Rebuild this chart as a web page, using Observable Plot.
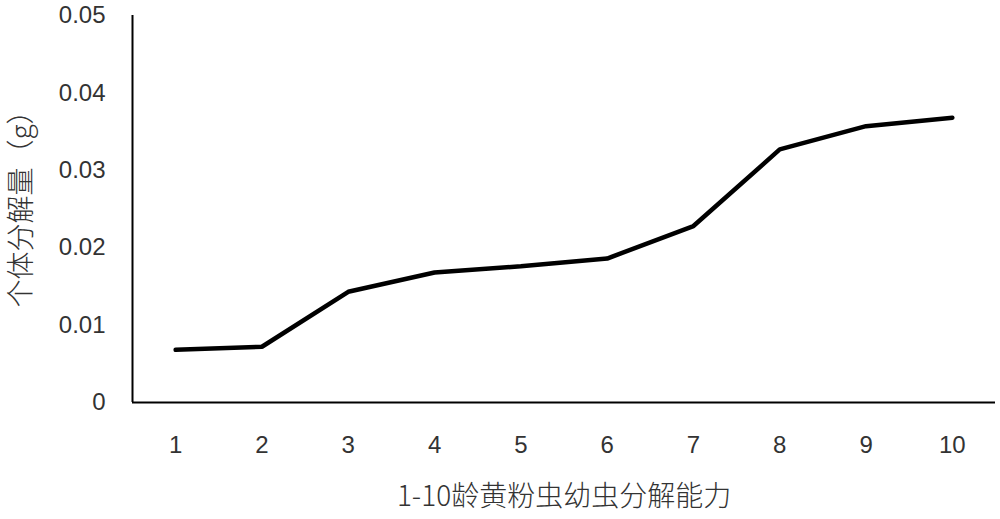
<!DOCTYPE html>
<html><head><meta charset="utf-8">
<script src="https://cdn.jsdelivr.net/npm/d3@7"></script>
<script src="https://cdn.jsdelivr.net/npm/@observablehq/plot@0.6"></script>
<style>
body{margin:0;background:#fff}
g[aria-label="x-axis tick label"], g[aria-label="y-axis tick label"]{font-size:24px}
</style>
</head><body><div id="chart"></div>
<script>
const instars = [1, 2, 3, 4, 5, 6, 7, 8, 9, 10];
const amounts = [0.0068, 0.0072, 0.0143, 0.0168, 0.0176, 0.0186, 0.0228, 0.0327, 0.0357, 0.0368];
const yTicks = [0, 0.01, 0.02, 0.03, 0.04, 0.05];
const yTickLabels = ["0", "0.01", "0.02", "0.03", "0.04", "0.05"];
const xTitle = "1-10龄黄粉虫幼虫分解能力";
const yTitle = "个体分解量（g）";

const data = instars.map((d, i) => ({instar: d, amount: amounts[i]}));
const numFont = "'Liberation Sans', Arial, sans-serif";
const cjkFont = "'Noto Sans CJK SC', sans-serif";

const chart = Plot.plot({
  width: 1000, height: 519,
  marginLeft: 132, marginRight: 5, marginTop: 15, marginBottom: 117,
  style: {background: "#fff"},
  x: {type: "linear", domain: [0.5, 10.5]},
  y: {domain: [0, 0.05]},
  marks: [
    Plot.axisX({ticks: instars, tickSize: 0, tickPadding: 33, label: null,
      fontSize: 24, fontFamily: numFont, fill: "#333"}),
    Plot.axisY({ticks: yTicks, tickFormat: (d) => yTickLabels[yTicks.indexOf(d)], tickSize: 0, tickPadding: 27, label: null,
      fontSize: 24, fontFamily: numFont, fill: "#333"}),
    Plot.ruleY([0], {stroke: "#000", strokeWidth: 2}),
    Plot.ruleX([0.5], {stroke: "#000", strokeWidth: 2}),
    Plot.line(data, {x: "instar", y: "amount", stroke: "#000", strokeWidth: 4.5, strokeLinejoin: "miter"}),
    Plot.text([xTitle], {text: d => d, frameAnchor: "bottom", dy: 95, fontSize: 28, fontWeight: 300, fontFamily: cjkFont, fill: "#333", lineAnchor: "middle", textAnchor: "middle"}),
    Plot.text([yTitle], {text: d => d, frameAnchor: "left", dx: -110, dy: -7, rotate: -90, fontSize: 28, fontWeight: 300, fontFamily: cjkFont, fill: "#333", lineAnchor: "middle", textAnchor: "middle"})
  ]
});
document.getElementById("chart").appendChild(chart);
</script>
</body></html>
